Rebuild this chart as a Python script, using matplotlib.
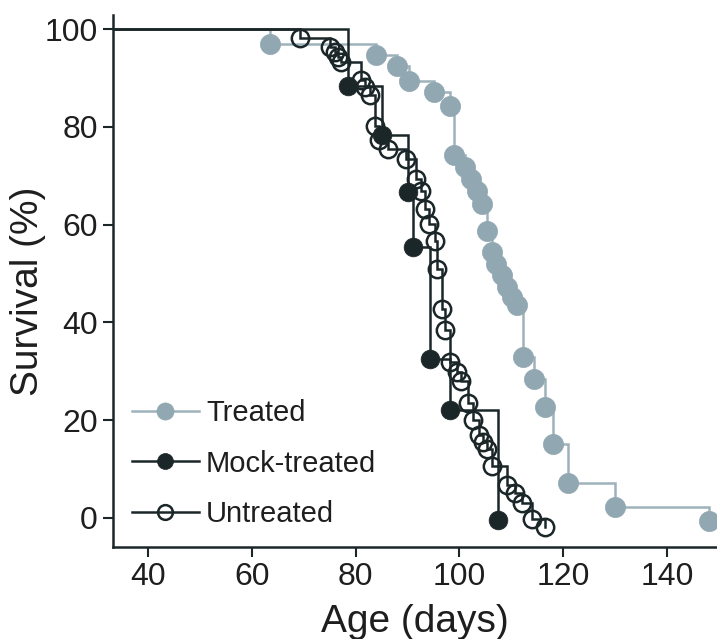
import matplotlib
matplotlib.use("Agg")
import matplotlib.pyplot as plt

plt.rcParams['font.family'] = ['Liberation Sans', 'DejaVu Sans']

# ---- data (age in days, survival in %) ----
treated_age = [63.5, 83.9, 87.9, 90.3, 95.2, 98.1, 99.0, 101.0, 102.3, 103.4,
               104.4, 105.3, 106.2, 107.0, 108.2, 109.1, 110.1, 111.0, 112.3,
               114.4, 116.5, 118.0, 121.0, 130.0, 148.0]
treated_surv = [97.0, 94.8, 92.4, 89.4, 87.1, 84.3, 74.3, 71.7, 69.3, 66.8,
                64.2, 58.8, 54.3, 52.0, 49.6, 47.2, 45.2, 43.5, 32.9,
                28.5, 22.7, 15.2, 7.1, 2.3, -0.7]

mock_age = [78.6, 85.1, 90.1, 91.1, 94.3, 98.2, 107.4]
mock_surv = [88.4, 78.4, 66.6, 55.5, 32.6, 22.0, -0.4]

untreated_age = [69.3, 75.0, 76.0, 76.7, 77.2, 81.1, 81.8, 82.8, 83.7, 84.6,
                 86.2, 89.8, 91.6, 92.7, 93.3, 94.2, 95.3, 95.6, 96.6, 97.2,
                 98.2, 99.5, 100.4, 101.7, 102.7, 103.8, 104.5, 105.4, 106.3,
                 109.1, 110.7, 112.1, 114.0, 116.4]
untreated_surv = [98.2, 96.3, 95.3, 94.3, 93.3, 89.5, 88.1, 86.6, 80.1, 77.3,
                  75.4, 73.4, 69.3, 66.9, 63.3, 60.1, 56.7, 50.9, 42.8, 38.4,
                  31.9, 29.9, 28.0, 23.4, 20.0, 17.0, 15.5, 14.0, 10.6,
                  6.7, 5.0, 3.0, -0.3, -1.8]

start_age = 0.0
start_surv = 100.0

labels = ['Treated', 'Mock-treated', 'Untreated']
x_ticks = [40, 60, 80, 100, 120, 140]
y_ticks = [0, 20, 40, 60, 80, 100]

# ---- styling ----
grey_line = '#9db2bb'
grey_mark = '#91a7b1'
dark = '#1b2629'

fig = plt.figure(figsize=(7.17, 6.39), dpi=100)
ax = fig.add_axes([0.1576, 0.1445, 0.8424, 0.832])


def km(ax, ages, survs, color, mfc, mec, ms, mew, label, z):
    xs = [start_age] + list(ages)
    ys = [start_surv] + list(survs)
    ax.step(xs, ys, where='post', color=color, lw=1.8, zorder=z,
            solid_joinstyle='miter')
    ax.plot(ages, survs, linestyle='none', marker='o', ms=ms, mfc=mfc,
            mec=mec, mew=mew, zorder=z + 0.5, clip_on=False)
    # legend proxy
    return ax.plot([], [], color=color, lw=1.8, marker='o', ms=ms * 0.85,
                   mfc=mfc, mec=mec, mew=mew, label=label)[0]


h1 = km(ax, treated_age, treated_surv, grey_line, grey_mark, grey_mark,
        14.5, 0.5, labels[0], 2)
h3 = km(ax, untreated_age, untreated_surv, dark, 'none', dark,
        12.5, 1.8, labels[2], 3)
h2 = km(ax, mock_age, mock_surv, dark, dark, dark,
        13.5, 0.5, labels[1], 4)

ax.set_xlim(33.3, 149.6)
ax.set_ylim(-5.9, 102.9)
ax.set_xticks(x_ticks)
ax.set_yticks(y_ticks)

for s in ['top', 'right']:
    ax.spines[s].set_visible(False)
for s in ['left', 'bottom']:
    ax.spines[s].set_color(dark)
    ax.spines[s].set_linewidth(1.8)

ax.tick_params(direction='out', length=7, width=1.5, color=dark,
               labelsize=23, labelcolor='#1e1e1e', pad=4)

ax.set_xlabel('Age (days)', fontsize=28, color='#1e1e1e')
ax.set_ylabel('Survival (%)', fontsize=28, color='#1e1e1e')
ax.xaxis.set_label_coords(0.5, -0.108)
ax.yaxis.set_label_coords(-0.111, 0.48)

leg = ax.legend(handles=[h1, h2, h3], loc='upper left',
                bbox_to_anchor=(0.031, 0.277), frameon=False, fontsize=21,
                handlelength=2.3, handletextpad=0.25, labelspacing=0.76,
                borderpad=0, borderaxespad=0)
for t in leg.get_texts():
    t.set_color('#1e1e1e')

fig.savefig('out.png', dpi=100)
